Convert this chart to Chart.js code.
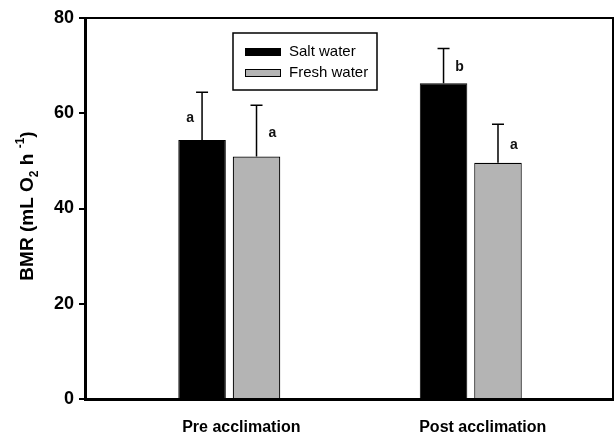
<!DOCTYPE html>
<html><head><meta charset="utf-8">
<script src="https://cdn.jsdelivr.net/npm/chart.js@4.4.0/dist/chart.umd.min.js"></script>
<style>html,body{margin:0;padding:0;background:#fff}#wrap{width:616px;height:437px}</style>
</head><body><div id="wrap"><canvas id="c" width="616" height="437"></canvas></div>
<script>
// ---- data ----
const categories = ['Pre acclimation', 'Post acclimation'];
const categoryPositions = [1, 2];
const seriesNames = ['Salt water', 'Fresh water'];
const saltWater = [54.4, 66.3];
const saltWaterErr = [10.0, 7.3];
const freshWater = [50.9, 49.6];
const freshWaterErr = [10.8, 8.1];
const saltLetters = ['a', 'b'];
const freshLetters = ['a', 'a'];
const yTicks = [0, 20, 40, 60, 80];
const yTitleParts = [['BMR (mL O', 0], ['2', 1], [' h ', 0], ['-1', -1], [')', 0]];

const FONT = "'Liberation Sans', Arial, sans-serif";

const errorBarPlugin = {
  id: 'errorBars',
  afterDatasetsDraw(chart) {
    const ctx = chart.ctx;
    const ys = chart.scales.y;
    chart.data.datasets.forEach((ds, di) => {
      const meta = chart.getDatasetMeta(di);
      meta.data.forEach((bar, i) => {
        const v = ds.data[i].y, e = ds.err[i];
        const yTop = ys.getPixelForValue(v + e);
        ctx.save();
        ctx.strokeStyle = '#000';
        ctx.lineWidth = 1.5;
        ctx.beginPath();
        ctx.moveTo(bar.x, bar.y);
        ctx.lineTo(bar.x, yTop);
        ctx.moveTo(bar.x - 6, yTop);
        ctx.lineTo(bar.x + 6, yTop);
        ctx.stroke();
        ctx.fillStyle = '#111';
        ctx.font = 'bold 14px ' + FONT;
        ctx.textAlign = 'center';
        ctx.textBaseline = 'middle';
        const side = ds.letterSide[i];
        const off = side < 0 ? 12 : 16;
        ctx.fillText(ds.letters[i], bar.x + side * off, ys.getPixelForValue(v + e * 0.45));
        ctx.restore();
      });
    });
  }
};

const framePlugin = {
  id: 'frame',
  afterDraw(chart) {
    const ctx = chart.ctx, a = chart.chartArea;
    ctx.save();
    ctx.strokeStyle = '#000';
    ctx.lineWidth = 2;
    ctx.beginPath();
    ctx.moveTo(a.left, a.top);
    ctx.lineTo(a.right, a.top);
    ctx.lineTo(a.right, a.bottom);
    ctx.stroke();
    ctx.restore();
  }
};

const legendPlugin = {
  id: 'boxLegend',
  afterDraw(chart) {
    const ctx = chart.ctx;
    const bx = 233, by = 33, bw = 144, bh = 57;
    ctx.save();
    ctx.strokeStyle = '#000';
    ctx.lineWidth = 1.5;
    ctx.strokeRect(bx, by, bw, bh);
    chart.data.datasets.forEach((ds, i) => {
      const cy = 52 + i * 21;
      ctx.fillStyle = ds.backgroundColor;
      ctx.fillRect(245, cy - 4, 36, 8);
      ctx.strokeStyle = '#000';
      ctx.lineWidth = 1;
      ctx.strokeRect(245.5, cy - 3.5, 35, 7);
      ctx.fillStyle = '#000';
      ctx.font = '15px ' + FONT;
      ctx.textBaseline = 'middle';
      ctx.textAlign = 'left';
      ctx.fillText(ds.label, 289, cy);
    });
    ctx.restore();
  }
};

const yTitlePlugin = {
  id: 'yTitle',
  afterDraw(chart) {
    const ctx = chart.ctx;
    ctx.save();
    ctx.translate(33, 206);
    ctx.rotate(-Math.PI / 2);
    ctx.fillStyle = '#000';
    ctx.textBaseline = 'alphabetic';
    ctx.textAlign = 'left';
    const fontFor = (k) => k === 0 ? 'bold 19px ' + FONT : 'bold 12px ' + FONT;
    let total = 0;
    yTitleParts.forEach(([t, k]) => { ctx.font = fontFor(k); total += ctx.measureText(t).width; });
    let x = -total / 2;
    yTitleParts.forEach(([t, k]) => {
      ctx.font = fontFor(k);
      const dy = k === 1 ? 5 : (k === -1 ? -9 : 0);
      ctx.fillText(t, x, dy);
      x += ctx.measureText(t).width;
    });
    ctx.restore();
  }
};

new Chart(document.getElementById('c'), {
  type: 'bar',
  data: {
    datasets: [
      {
        label: seriesNames[0],
        data: categoryPositions.map((x, i) => ({ x, y: saltWater[i] })),
        err: saltWaterErr, letters: saltLetters, letterSide: [-1, 1],
        backgroundColor: '#000000', borderColor: '#000000', borderWidth: 1,
        categoryPercentage: 0.451, barPercentage: 0.873
      },
      {
        label: seriesNames[1],
        data: categoryPositions.map((x, i) => ({ x, y: freshWater[i] })),
        err: freshWaterErr, letters: freshLetters, letterSide: [1, 1],
        backgroundColor: '#b4b4b4', borderColor: '#000000', borderWidth: 1.2,
        categoryPercentage: 0.451, barPercentage: 0.873
      }
    ]
  },
  options: {
    responsive: false,
    animation: false,
    devicePixelRatio: 1,
    layout: { padding: { top: 18, right: 3, left: 0, bottom: 0 } },
    plugins: { legend: { display: false }, tooltip: { enabled: false } },
    scales: {
      x: {
        type: 'linear', min: 0.4025, max: 2.589, offset: false,
        afterBuildTicks: s => { s.ticks = categoryPositions.map(v => ({ value: v })); },
        afterFit: s => { s.height = 38; },
        ticks: {
          callback: v => categories[categoryPositions.indexOf(v)] || '',
          labelOffset: 12, padding: 19, autoSkip: false, maxRotation: 0,
          color: '#000', font: { family: FONT, weight: 'bold', size: 16 }
        },
        grid: { display: true, offset: false, drawOnChartArea: false, drawTicks: false },
        border: { display: true, color: '#000', width: 3 }
      },
      y: {
        min: 0, max: 80,
        afterBuildTicks: s => { s.ticks = yTicks.map(v => ({ value: v })); },
        afterFit: s => { s.width = 85; },
        ticks: { color: '#000', padding: 5, font: { family: FONT, weight: 'bold', size: 18 } },
        grid: { drawOnChartArea: false, drawTicks: true, tickLength: 6, tickColor: '#000', lineWidth: 2 },
        border: { display: true, color: '#000', width: 3 }
      }
    }
  },
  plugins: [errorBarPlugin, framePlugin, legendPlugin, yTitlePlugin]
});
</script>
</body></html>
